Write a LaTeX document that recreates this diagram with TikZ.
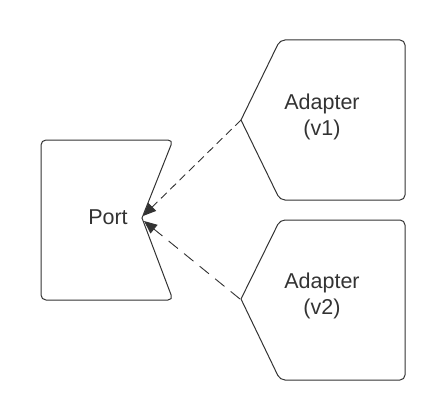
\documentclass[tikz,border=0pt]{standalone}
\usepackage{fontspec}
\setmainfont{Liberation Sans}
\usetikzlibrary{arrows.meta}
\definecolor{ink}{HTML}{333333}
\tikzset{
  shapeline/.style={draw=ink, line width=1pt},
  lbl/.style={text=ink, font=\fontsize{21.5}{26}\selectfont, align=center},
  dep/.style={draw=ink, line width=0.9pt, -{Triangle[length=13pt,width=11pt]}},
}
\begin{document}
\begin{tikzpicture}[x=1pt,y=-1pt]
\useasboundingbox (0,0) rectangle (445,420);
% Port
\draw[shapeline] (107,140) [rounded corners=5pt] -- (173,140) [sharp corners] -- (142,218) [rounded corners=5pt] -- (173,300) -- (41,300) -- (41,140) -- (107,140);
\coordinate (portin1) at (143,216);
\coordinate (portin2) at (144,221);
\node[lbl] (port) at (108,217) {Port};
% Adapter v1
\draw[shapeline] (241,120) [rounded corners=5pt] -- (280,40) -- (405,40) -- (405,200) -- (280,200) [sharp corners] -- (241,120);
\coordinate (a1out) at (241,120);
\node[lbl] (a1) at (322,117) {Adapter\\(v1)};
% Adapter v2
\draw[shapeline] (241,299) [rounded corners=5pt] -- (280,220) -- (405,220) -- (405,380) -- (280,380) [sharp corners] -- (241,299);
\coordinate (a2out) at (240,299);
\node[lbl] (a2) at (322,296) {Adapter\\(v2)};
% connectors
\draw[dep, dash pattern=on 8pt off 5pt] (a1out) -- (portin1);
\draw[dep, dash pattern=on 12pt off 8pt] (a2out) -- (portin2);
\end{tikzpicture}
\end{document}
